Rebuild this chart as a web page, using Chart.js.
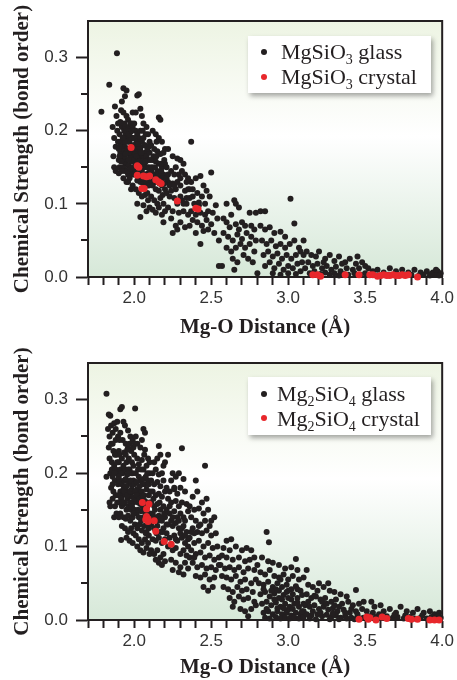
<!DOCTYPE html>
<html>
<head>
<meta charset="utf-8">
<title>Mg-O chemical strength</title>
<script src="https://cdn.jsdelivr.net/npm/chart.js@4.4.1/dist/chart.umd.min.js"></script>
<style>
  html, body { margin: 0; padding: 0; background: #fff; }
  #wrap { position: relative; width: 457px; height: 680px; overflow: hidden; }
  .panel { position: absolute; left: 0; width: 457px; height: 340px; }
  .panel canvas { position: absolute; left: 0; top: 0; }
  .legend {
    position: absolute; background: #fff;
    box-shadow: 2px 3px 5px rgba(0, 0, 0, 0.35);
    font-family: "Liberation Serif", "Times New Roman", serif;
    font-size: 22px; color: #231f20;
  }
  .legend .row { position: absolute; white-space: nowrap; line-height: 25px; height: 25px; }
  .legend .dot { position: absolute; border-radius: 50%; }
  .legend sub { font-size: 14px; vertical-align: baseline; position: relative; top: 5px; }
</style>
</head>
<body>
<div id="wrap">
  <div class="panel" style="top:0">
    <canvas id="c1" width="457" height="340"></canvas>
    <div class="legend" id="lg1" style="left:248px;top:36px;width:183px;height:57px"></div>
  </div>
  <div class="panel" style="top:340px">
    <canvas id="c2" width="457" height="340"></canvas>
    <div class="legend" id="lg2" style="left:248px;top:37px;width:183px;height:58px"></div>
  </div>
</div>
<script>
// ---- axis tick labels ----
const xTickLabels = ['2.0', '2.5', '3.0', '3.5', '4.0'];
const yTickLabels = ['0.0', '0.1', '0.2', '0.3'];

// ---- series labels ----
const mgsio3Labels = ['MgSiO₃ glass', 'MgSiO₃ crystal'];
const mg2sio4Labels = ['Mg₂SiO₄ glass', 'Mg₂SiO₄ crystal'];

// ---- MgSiO3: [Mg-O distance (Å), bond order] ----
const mgsio3Glass = [
  [1.787,0.226],[1.838,0.263],[1.888,0.306],[1.86,0.205],[1.87,0.19],[1.865,0.165],[1.87,0.15],[1.88,0.178],[1.875,0.233],[1.885,0.22],[1.89,0.2],[1.895,0.185],[1.9,0.16],[1.88,0.145],[1.9,0.142],[1.895,0.21],
  [1.93,0.258],[1.95,0.255],[1.94,0.247],[1.92,0.24],[1.915,0.228],[1.93,0.225],[1.95,0.22],[1.96,0.215],[1.91,0.212],[1.92,0.205],[1.935,0.2],[1.945,0.195],[1.955,0.19],[1.965,0.205],[1.975,0.198],[1.99,0.225],[1.985,0.21],[1.905,0.195],[1.915,0.185],[1.925,0.18],[1.94,0.178],[1.95,0.172],[1.96,0.168],[1.97,0.185],[1.98,0.175],[1.99,0.19],[1.91,0.17],[1.92,0.162],[1.93,0.158],[1.945,0.155],[1.955,0.16],[1.965,0.152],[1.975,0.162],[1.985,0.158],[1.995,0.17],[1.905,0.15],[1.915,0.148],[1.94,0.145],[1.96,0.14],[1.97,0.135],[1.98,0.145],[1.99,0.14],[1.93,0.135],[1.95,0.13],[1.98,0.12],[1.96,0.185],[1.925,0.17],[1.975,0.21],[1.99,0.205],[1.995,0.18],[1.985,0.165],[1.915,0.175],[1.935,0.165],[1.905,0.178],[1.945,0.205],[1.955,0.175],[1.97,0.17],[1.98,0.19],[1.93,0.19],[1.94,0.185],[1.95,0.2],[1.965,0.16],[1.925,0.15],[1.935,0.148],[1.96,0.13],[1.99,0.125],
  [2.02,0.248],[2.03,0.25],[2.01,0.225],[2.04,0.23],[2.05,0.22],[2.06,0.21],[2.08,0.205],[2.0,0.21],[2.01,0.2],[2.02,0.195],[2.03,0.19],[2.04,0.2],[2.05,0.185],[2.06,0.19],[2.07,0.18],[2.09,0.195],[2.1,0.185],[2.0,0.18],[2.01,0.175],[2.02,0.17],[2.03,0.165],[2.04,0.175],[2.05,0.168],[2.06,0.162],[2.07,0.17],[2.08,0.165],[2.09,0.16],[2.1,0.17],[2.0,0.16],[2.01,0.155],[2.03,0.148],[2.04,0.155],[2.05,0.145],[2.06,0.15],[2.07,0.14],[2.08,0.15],[2.09,0.142],[2.1,0.148],[2.0,0.14],[2.02,0.132],[2.04,0.13],[2.06,0.128],[2.08,0.125],[2.1,0.13],[2.01,0.12],[2.03,0.115],[2.05,0.11],[2.07,0.112],[2.09,0.105],[2.04,0.082],[2.02,0.1],[2.06,0.098],[2.08,0.09],[2.1,0.095],[2.0,0.19],[2.015,0.185],[2.035,0.178],[2.055,0.2],[2.075,0.195],[2.085,0.175],[2.095,0.178],[2.045,0.16],[2.065,0.155],[2.025,0.16],[2.015,0.145],[2.035,0.138],[2.055,0.135],[2.075,0.132],[2.095,0.125],[2.085,0.115],
  [2.16,0.218],[2.17,0.215],[2.12,0.2],[2.14,0.195],[2.16,0.19],[2.18,0.185],[2.11,0.18],[2.13,0.175],[2.15,0.172],[2.17,0.168],[2.19,0.17],[2.2,0.175],[2.12,0.16],[2.14,0.158],[2.16,0.155],[2.18,0.15],[2.2,0.155],[2.11,0.145],[2.13,0.14],[2.15,0.145],[2.17,0.138],[2.19,0.14],[2.12,0.125],[2.14,0.12],[2.16,0.118],[2.18,0.125],[2.2,0.12],[2.11,0.11],[2.13,0.105],[2.15,0.1],[2.17,0.108],[2.19,0.1],[2.12,0.092],[2.14,0.088],[2.16,0.095],[2.18,0.085],[2.2,0.09],[2.19,0.075],[2.155,0.13],[2.175,0.155],[2.125,0.165],[2.145,0.185],[2.195,0.16],[2.135,0.13],[2.185,0.112],
  [2.37,0.185],[2.22,0.175],[2.25,0.165],[2.28,0.162],[2.3,0.16],[2.32,0.155],[2.21,0.15],[2.24,0.145],[2.27,0.15],[2.29,0.14],[2.31,0.145],[2.33,0.14],[2.35,0.135],[2.22,0.13],[2.25,0.128],[2.27,0.12],[2.3,0.125],[2.33,0.118],[2.35,0.12],[2.21,0.115],[2.23,0.11],[2.26,0.108],[2.28,0.1],[2.31,0.105],[2.34,0.1],[2.22,0.095],[2.25,0.09],[2.29,0.088],[2.32,0.09],[2.35,0.085],[2.24,0.08],[2.27,0.07],[2.3,0.075],[2.33,0.068],[2.28,0.065],[2.25,0.06],[2.34,0.108],[2.3,0.135],[2.26,0.14],[2.23,0.125],
  [2.5,0.143],[2.4,0.135],[2.43,0.138],[2.37,0.13],[2.45,0.125],[2.38,0.12],[2.41,0.115],[2.44,0.11],[2.47,0.118],[2.49,0.11],[2.36,0.108],[2.39,0.1],[2.42,0.098],[2.46,0.1],[2.53,0.098],[2.37,0.09],[2.4,0.085],[2.43,0.088],[2.48,0.09],[2.51,0.088],[2.38,0.078],[2.41,0.075],[2.44,0.07],[2.47,0.078],[2.5,0.072],[2.54,0.08],[2.4,0.06],[2.45,0.063],[2.48,0.065],[2.52,0.06],[2.43,0.045],[2.55,0.05],[2.36,0.07],[2.42,0.102],[2.46,0.085],
  [2.55,0.015],[2.57,0.015],[2.6,0.1],[2.65,0.105],[2.66,0.1],[2.68,0.095],[2.63,0.085],[2.58,0.08],[2.6,0.075],[2.62,0.068],[2.66,0.072],[2.7,0.075],[2.72,0.07],[2.75,0.088],[2.58,0.06],[2.61,0.055],[2.64,0.05],[2.67,0.058],[2.7,0.052],[2.73,0.06],[2.76,0.055],[2.78,0.065],[2.6,0.04],[2.63,0.035],[2.66,0.04],[2.69,0.045],[2.72,0.04],[2.75,0.045],[2.78,0.035],[2.64,0.025],[2.67,0.02],[2.71,0.03],[2.74,0.025],[2.77,0.02],[2.65,0.01],[2.8,0.005],[2.79,0.05],[2.76,0.07],[2.68,0.065],
  [2.79,0.088],[2.82,0.09],[2.85,0.09],[3.015,0.107],[3.04,0.073],[2.82,0.07],[2.85,0.065],[2.88,0.068],[2.91,0.06],[2.95,0.062],[2.98,0.055],[2.83,0.05],[2.86,0.045],[2.89,0.05],[2.92,0.042],[2.95,0.045],[2.98,0.04],[3.01,0.045],[3.04,0.05],[3.07,0.04],[2.84,0.03],[2.87,0.035],[2.9,0.028],[2.93,0.032],[2.96,0.025],[2.99,0.03],[3.02,0.025],[3.05,0.03],[3.08,0.035],[2.85,0.015],[2.88,0.02],[2.91,0.012],[2.94,0.018],[2.97,0.01],[3.0,0.015],[3.03,0.012],[3.06,0.018],[3.09,0.02],[2.9,0.005],[2.95,0.003],[3.0,0.005],[3.05,0.004],[3.08,0.008],[3.1,0.05],[3.1,0.03],
  [3.12,0.035],[3.15,0.03],[3.18,0.028],[3.2,0.035],[3.24,0.025],[3.27,0.03],[3.3,0.022],[3.33,0.028],[3.37,0.02],[3.4,0.025],[3.45,0.028],[3.48,0.02],[3.13,0.02],[3.16,0.015],[3.19,0.018],[3.22,0.012],[3.25,0.015],[3.28,0.01],[3.31,0.014],[3.34,0.008],[3.38,0.012],[3.42,0.01],[3.46,0.012],[3.5,0.015],[3.14,0.005],[3.17,0.008],[3.21,0.004],[3.24,0.006],[3.27,0.003],[3.3,0.005],[3.33,0.002],[3.36,0.004],[3.39,0.003],[3.43,0.005],[3.47,0.003],[3.5,0.005],[3.11,0.012],[3.23,0.02],[3.35,0.018],[3.44,0.018],
  [3.52,0.012],[3.55,0.008],[3.58,0.01],[3.62,0.006],[3.66,0.012],[3.7,0.008],[3.74,0.01],[3.78,0.006],[3.82,0.01],[3.86,0.006],[3.9,0.008],[3.94,0.006],[3.97,0.008],[3.99,0.005],[3.54,0.003],[3.6,0.002],[3.65,0.003],[3.72,0.002],[3.8,0.003],[3.85,0.002],[3.88,0.003],[3.92,0.002],[3.95,0.003],[3.98,0.002],[3.96,0.01],[3.93,0.004],
  [1.905,0.165],[1.915,0.158],[1.925,0.19],[1.935,0.21],[1.945,0.168],[1.955,0.145],[1.965,0.195],[1.975,0.148],[1.985,0.2],[1.995,0.15],[2.005,0.168],[2.015,0.165],[2.025,0.182],[2.035,0.158],[2.045,0.17],[2.055,0.158],[2.065,0.18],[2.075,0.158],[2.085,0.14],[2.095,0.15],[2.105,0.16],[2.115,0.15],[2.125,0.135],[2.135,0.15],[2.145,0.165],[2.155,0.14],[2.165,0.128],[2.175,0.145],[2.185,0.135],[2.195,0.128],[2.21,0.135],[2.22,0.14],[2.24,0.118],[2.26,0.125],[2.28,0.13],[2.3,0.11],[2.32,0.1],[2.34,0.13],[2.36,0.12],[2.38,0.11],[1.9,0.175],[1.92,0.145]
];
const mgsio3Crystal = [
  [1.98,0.177],[2.02,0.152],[2.03,0.150],[2.02,0.139],[2.06,0.138],[2.08,0.137],[2.10,0.138],[2.05,0.121],[2.065,0.121],[2.14,0.133],[2.16,0.130],[2.175,0.128],[2.28,0.104],[2.40,0.094],[2.415,0.093],
  [3.16,0.003],[3.19,0.003],[3.21,0.001],[3.37,0.003],[3.46,0.003],[3.53,0.003],[3.55,0.003],[3.58,0.001],[3.60,0.002],[3.62,0.003],[3.64,0.002],[3.66,0.002],[3.68,0.003],[3.70,0.002],[3.72,0.002],[3.74,0.003],[3.76,0.002],[3.78,0.003],[3.84,0.0]
];

// ---- Mg2SiO4: [Mg-O distance (Å), bond order] ----
const mg2sio4Glass = [
  [1.82,0.308],[1.835,0.28],[1.845,0.278],[1.82,0.195],[1.84,0.16],[1.845,0.155],[1.83,0.26],[1.84,0.25],[1.85,0.265],[1.86,0.255],[1.87,0.268],[1.88,0.26],[1.89,0.27],[1.835,0.235],[1.85,0.24],[1.865,0.23],[1.88,0.245],[1.84,0.22],[1.855,0.215],[1.87,0.21],[1.885,0.225],[1.9,0.215],[1.845,0.2],[1.86,0.195],[1.875,0.19],[1.89,0.2],[1.85,0.18],[1.865,0.175],[1.88,0.17],[1.895,0.185],[1.86,0.165],[1.875,0.155],[1.89,0.16],[1.87,0.14],[1.885,0.145],[1.9,0.14],[1.855,0.205],[1.88,0.205],[1.86,0.24],[1.895,0.25],[1.9,0.23],
  [1.91,0.287],[1.92,0.29],[2.006,0.288],[1.915,0.109],[1.93,0.27],[1.94,0.265],[1.96,0.258],[1.975,0.25],[1.99,0.245],[1.91,0.255],[1.925,0.245],[1.945,0.24],[1.96,0.235],[1.98,0.23],[1.995,0.235],[1.905,0.225],[1.92,0.22],[1.935,0.228],[1.95,0.215],[1.965,0.22],[1.985,0.215],[1.91,0.205],[1.925,0.2],[1.94,0.205],[1.955,0.198],[1.97,0.205],[1.99,0.2],[1.905,0.19],[1.92,0.185],[1.935,0.19],[1.95,0.182],[1.965,0.188],[1.98,0.185],[1.995,0.19],[1.91,0.175],[1.925,0.17],[1.94,0.172],[1.955,0.165],[1.97,0.17],[1.985,0.168],[1.905,0.16],[1.92,0.155],[1.935,0.158],[1.95,0.15],[1.965,0.155],[1.98,0.15],[1.995,0.16],[1.91,0.145],[1.93,0.14],[1.945,0.138],[1.96,0.142],[1.975,0.135],[1.99,0.14],[1.92,0.128],[1.94,0.125],[1.96,0.12],[1.98,0.125],[1.995,0.118],[1.95,0.112],[1.97,0.108],[1.99,0.105],[1.915,0.2],[1.93,0.21],[1.945,0.225],[1.96,0.205],[1.975,0.19],[1.985,0.178],[1.96,0.175],[1.94,0.16],[1.975,0.16],[1.99,0.175],[1.93,0.178],[1.945,0.192],[1.955,0.232],[1.97,0.24],[1.98,0.2],[1.995,0.21],
  [2.06,0.26],[2.07,0.255],[2.01,0.25],[2.02,0.24],[2.04,0.235],[2.05,0.245],[2.07,0.232],[2.09,0.22],[2.1,0.215],[2.0,0.225],[2.02,0.22],[2.03,0.212],[2.05,0.218],[2.06,0.205],[2.08,0.21],[2.1,0.2],[2.01,0.2],[2.03,0.195],[2.04,0.19],[2.06,0.192],[2.07,0.185],[2.09,0.19],[2.0,0.185],[2.02,0.178],[2.035,0.172],[2.05,0.175],[2.065,0.17],[2.08,0.178],[2.095,0.17],[2.01,0.165],[2.025,0.16],[2.04,0.158],[2.055,0.155],[2.07,0.162],[2.085,0.155],[2.1,0.16],[2.0,0.15],[2.015,0.145],[2.03,0.14],[2.045,0.148],[2.06,0.14],[2.075,0.145],[2.09,0.14],[2.1,0.145],[2.005,0.13],[2.02,0.125],[2.035,0.13],[2.05,0.122],[2.065,0.128],[2.08,0.12],[2.095,0.125],[2.01,0.115],[2.03,0.11],[2.05,0.105],[2.07,0.11],[2.09,0.105],[2.02,0.1],[2.04,0.095],[2.06,0.092],[2.08,0.098],[2.1,0.09],[2.0,0.165],[2.015,0.188],[2.045,0.205],[2.085,0.2],[2.055,0.185],[2.095,0.185],[2.025,0.205],[2.075,0.195],[2.035,0.182],[2.005,0.24],[2.065,0.225],
  [2.16,0.237],[2.15,0.22],[2.13,0.215],[2.17,0.225],[2.19,0.21],[2.2,0.215],[2.12,0.2],[2.14,0.205],[2.16,0.198],[2.18,0.2],[2.11,0.19],[2.13,0.185],[2.15,0.188],[2.17,0.182],[2.19,0.19],[2.12,0.175],[2.14,0.17],[2.16,0.172],[2.18,0.168],[2.2,0.175],[2.11,0.16],[2.13,0.155],[2.15,0.158],[2.17,0.15],[2.19,0.155],[2.12,0.145],[2.14,0.14],[2.16,0.142],[2.18,0.135],[2.2,0.14],[2.11,0.13],[2.13,0.125],[2.15,0.128],[2.17,0.12],[2.19,0.125],[2.12,0.11],[2.14,0.108],[2.16,0.112],[2.18,0.105],[2.2,0.11],[2.11,0.095],[2.13,0.09],[2.15,0.095],[2.17,0.085],[2.19,0.09],[2.16,0.078],[2.2,0.08],[2.14,0.082],[2.18,0.075],
  [2.31,0.234],[2.22,0.225],[2.25,0.2],[2.24,0.19],[2.27,0.195],[2.29,0.2],[2.32,0.192],[2.21,0.18],[2.23,0.175],[2.26,0.178],[2.28,0.172],[2.3,0.18],[2.33,0.175],[2.22,0.165],[2.24,0.16],[2.27,0.162],[2.29,0.155],[2.31,0.16],[2.34,0.158],[2.21,0.15],[2.23,0.145],[2.26,0.148],[2.28,0.14],[2.3,0.145],[2.32,0.14],[2.35,0.148],[2.22,0.13],[2.25,0.128],[2.27,0.132],[2.29,0.125],[2.32,0.128],[2.34,0.12],[2.21,0.118],[2.23,0.112],[2.26,0.115],[2.28,0.108],[2.31,0.112],[2.33,0.105],[2.35,0.11],[2.22,0.1],[2.25,0.095],[2.27,0.098],[2.3,0.09],[2.32,0.095],[2.34,0.088],[2.24,0.082],[2.27,0.078],[2.3,0.072],[2.33,0.078],[2.25,0.068],[2.29,0.065],[2.32,0.062],[2.35,0.07],[2.26,0.18],[2.3,0.118],[2.24,0.135],[2.33,0.135],
  [2.46,0.21],[2.4,0.19],[2.41,0.175],[2.44,0.16],[2.47,0.165],[2.38,0.168],[2.36,0.155],[2.39,0.15],[2.42,0.152],[2.45,0.145],[2.48,0.15],[2.52,0.14],[2.37,0.14],[2.4,0.135],[2.43,0.13],[2.46,0.135],[2.49,0.128],[2.38,0.125],[2.41,0.12],[2.44,0.118],[2.47,0.122],[2.5,0.115],[2.53,0.118],[2.36,0.112],[2.39,0.105],[2.42,0.108],[2.45,0.1],[2.48,0.105],[2.51,0.098],[2.54,0.1],[2.37,0.095],[2.4,0.09],[2.43,0.092],[2.46,0.085],[2.49,0.088],[2.52,0.082],[2.55,0.085],[2.38,0.078],[2.41,0.072],[2.44,0.075],[2.47,0.07],[2.5,0.072],[2.53,0.068],[2.4,0.06],[2.43,0.058],[2.46,0.062],[2.49,0.055],[2.52,0.058],[2.45,0.045],[2.48,0.04],[2.51,0.045],[2.36,0.085],[2.42,0.128],[2.5,0.135],[2.55,0.075],[2.39,0.118],
  [2.6,0.108],[2.63,0.11],[2.58,0.098],[2.62,0.095],[2.66,0.1],[2.7,0.095],[2.73,0.098],[2.76,0.095],[2.57,0.088],[2.6,0.085],[2.64,0.082],[2.68,0.085],[2.72,0.08],[2.75,0.082],[2.56,0.075],[2.59,0.07],[2.62,0.072],[2.65,0.068],[2.68,0.072],[2.71,0.065],[2.74,0.07],[2.78,0.068],[2.57,0.06],[2.6,0.058],[2.63,0.055],[2.66,0.06],[2.69,0.052],[2.72,0.055],[2.76,0.05],[2.79,0.055],[2.58,0.045],[2.61,0.042],[2.64,0.038],[2.67,0.045],[2.7,0.04],[2.73,0.042],[2.77,0.038],[2.62,0.03],[2.65,0.025],[2.68,0.032],[2.71,0.028],[2.74,0.03],[2.78,0.025],[2.64,0.018],[2.69,0.015],[2.72,0.012],[2.76,0.015],[2.79,0.02],[2.74,0.005],[2.8,0.075],[2.78,0.085],
  [2.86,0.12],[2.875,0.106],[3.05,0.083],[2.83,0.085],[2.87,0.08],[2.9,0.078],[2.94,0.075],[2.98,0.07],[3.02,0.072],[3.06,0.068],[2.82,0.065],[2.85,0.062],[2.88,0.068],[2.91,0.06],[2.94,0.058],[2.97,0.062],[3.0,0.055],[3.03,0.06],[3.07,0.055],[3.1,0.058],[2.81,0.05],[2.84,0.048],[2.87,0.052],[2.9,0.045],[2.93,0.05],[2.96,0.045],[2.99,0.048],[3.02,0.042],[3.05,0.046],[3.08,0.04],[2.82,0.035],[2.85,0.038],[2.88,0.032],[2.91,0.036],[2.94,0.03],[2.97,0.034],[3.0,0.03],[3.03,0.035],[3.06,0.03],[3.09,0.034],[2.83,0.022],[2.86,0.025],[2.89,0.02],[2.92,0.024],[2.95,0.018],[2.98,0.022],[3.01,0.018],[3.04,0.022],[3.07,0.018],[3.1,0.022],[2.84,0.01],[2.87,0.012],[2.9,0.008],[2.93,0.012],[2.96,0.008],[2.99,0.01],[3.02,0.006],[3.05,0.01],[3.08,0.008],[2.85,0.003],[2.88,0.002],[2.92,0.004],[2.95,0.002],[2.98,0.003],[3.01,0.002],[3.04,0.003],[3.07,0.002],[3.1,0.004],[2.92,0.042],[2.95,0.055],[2.99,0.038],[3.02,0.028],[2.96,0.028],[2.93,0.016],[3.0,0.014],[3.06,0.042],[3.1,0.012],
  [3.12,0.068],[3.2,0.05],[3.26,0.05],[3.13,0.048],[3.16,0.045],[3.19,0.04],[3.23,0.045],[3.27,0.04],[3.3,0.038],[3.34,0.035],[3.38,0.032],[3.44,0.041],[3.12,0.035],[3.15,0.03],[3.18,0.032],[3.21,0.028],[3.24,0.03],[3.28,0.025],[3.31,0.028],[3.35,0.022],[3.39,0.025],[3.42,0.02],[3.46,0.022],[3.49,0.025],[3.11,0.02],[3.14,0.018],[3.17,0.02],[3.2,0.015],[3.23,0.018],[3.26,0.014],[3.29,0.016],[3.32,0.012],[3.36,0.014],[3.4,0.01],[3.44,0.012],[3.48,0.015],[3.12,0.008],[3.15,0.006],[3.19,0.008],[3.22,0.005],[3.25,0.007],[3.28,0.004],[3.31,0.006],[3.34,0.003],[3.37,0.005],[3.41,0.003],[3.45,0.004],[3.49,0.003],[3.14,0.002],[3.18,0.001],[3.27,0.001],[3.33,0.001],[3.38,0.002],[3.43,0.001],[3.47,0.002],[3.3,0.02],[3.22,0.025],[3.16,0.012],
  [3.51,0.012],[3.54,0.025],[3.56,0.018],[3.6,0.02],[3.62,0.012],[3.66,0.015],[3.7,0.01],[3.73,0.018],[3.77,0.012],[3.81,0.01],[3.84,0.015],[3.88,0.01],[3.92,0.012],[3.95,0.008],[3.98,0.01],[3.53,0.005],[3.57,0.004],[3.61,0.003],[3.64,0.005],[3.68,0.003],[3.71,0.004],[3.75,0.002],[3.79,0.004],[3.82,0.002],[3.86,0.003],[3.9,0.002],[3.93,0.004],[3.96,0.002],[3.99,0.003],[3.55,0.01],[3.59,0.008],[3.69,0.007],[3.76,0.006],[3.87,0.006],[3.97,0.005],
  [1.86,0.185],[1.87,0.2],[1.875,0.225],[1.89,0.215],[1.895,0.17],[1.9,0.195],[1.905,0.245],[1.915,0.165],[1.925,0.16],[1.935,0.175],[1.945,0.182],[1.955,0.17],[1.965,0.2],[1.975,0.175],[1.985,0.155],[1.995,0.145],[2.005,0.175],[2.015,0.17],[2.025,0.15],[2.035,0.165],[2.045,0.135],[2.055,0.165],[2.065,0.15],[2.075,0.118],[2.085,0.13],[2.095,0.115],[2.105,0.175],[2.115,0.14],[2.125,0.165],[2.135,0.15],[2.145,0.118],[2.155,0.135],[2.165,0.16],[2.175,0.14],[2.185,0.12],[2.195,0.145],[2.21,0.13],[2.23,0.155],[2.25,0.14],[2.27,0.11],[2.29,0.135],[2.31,0.125],[2.33,0.115],[2.35,0.1],[2.37,0.12],[2.39,0.085],
  [2.84,0.042],[2.86,0.015],[2.89,0.04],[2.91,0.028],[2.94,0.04],[2.97,0.016],[3.0,0.04],[3.03,0.015],[3.06,0.024],[3.09,0.012],[3.13,0.025],[3.17,0.033],[3.21,0.01],[3.25,0.022],[3.29,0.009],[3.33,0.018],[3.37,0.01],[3.41,0.015],[3.45,0.008]
];
const mg2sio4Crystal = [
  [2.053,0.160],[2.096,0.158],[2.08,0.151],[2.08,0.141],[2.09,0.138],[2.075,0.137],[2.09,0.134],[2.13,0.135],[2.14,0.121],[2.195,0.107],[2.24,0.103],
  [3.46,0.001],[3.51,0.004],[3.52,0.001],[3.53,0.003],[3.57,0.0],[3.61,0.004],[3.64,0.002],[3.78,0.002],[3.80,0.001],[3.84,0.001],[3.92,0.0],[3.95,0.0],[3.98,0.0]
];

// ---- styling ----
const INK = '#231f20';
const GLASS_COLOR = '#231f20';
const CRYSTAL_COLOR = '#e8272b';
const SERIF = '"Liberation Serif", "Times New Roman", serif';
const SANS = '"Liberation Sans", Arial, sans-serif';

const isMajorY = v => Math.abs(v * 10 - Math.round(v * 10)) < 1e-6;

// gradient panel behind the points plus top/right frame lines
const plotFrame = {
  id: 'plotFrame',
  beforeDraw(chart) {
    const { ctx, chartArea: a } = chart;
    const g = ctx.createLinearGradient(0, a.top, 0, a.bottom);
    g.addColorStop(0, '#edf4e3');
    g.addColorStop(0.45, '#ffffff');
    g.addColorStop(1, '#d6e8d8');
    ctx.save();
    ctx.fillStyle = g;
    ctx.fillRect(a.left, a.top, a.right - a.left, a.bottom - a.top);
    ctx.restore();
  },
  beforeDatasetsDraw(chart) {
    const { ctx, chartArea: a } = chart;
    ctx.save();
    ctx.strokeStyle = INK;
    ctx.lineWidth = 2;
    ctx.beginPath();
    ctx.moveTo(a.left, a.top);
    ctx.lineTo(a.right, a.top);
    ctx.lineTo(a.right, a.bottom);
    ctx.stroke();
    ctx.restore();
  },
  afterDraw(chart) {
    // short minor ticks on the y axis
    const { ctx } = chart;
    const ys = chart.scales.y;
    ctx.save();
    ctx.strokeStyle = INK;
    ctx.lineWidth = 2;
    ys.ticks.forEach(t => {
      if (isMajorY(t.value) || t.value >= ys.max - 1e-9) return;
      const py = Math.round(ys.getPixelForValue(t.value));
      ctx.beginPath();
      ctx.moveTo(ys.right - 7, py);
      ctx.lineTo(ys.right, py);
      ctx.stroke();
    });
    ctx.restore();
  }
};

function toPoints(arr) { return arr.map(p => ({ x: p[0], y: p[1] })); }

function makeChart(canvasId, glass, crystal, labels, topPad, xAxisHeight) {
  return new Chart(document.getElementById(canvasId), {
    type: 'scatter',
    data: {
      datasets: [
        { label: labels[1], data: toPoints(crystal), backgroundColor: CRYSTAL_COLOR, borderWidth: 0, pointRadius: 3.5, clip: false, order: 0 },
        { label: labels[0], data: toPoints(glass), backgroundColor: GLASS_COLOR, borderWidth: 0, pointRadius: 3.0, clip: false, order: 1 }
      ]
    },
    options: {
      responsive: false,
      animation: false,
      devicePixelRatio: 1,
      events: [],
      layout: { padding: { top: topPad, right: 10, left: 0, bottom: 0 } },
      plugins: { legend: { display: false }, tooltip: { enabled: false } },
      scales: {
        x: {
          type: 'linear', min: 1.7, max: 4.0,
          afterFit(s) { s.height = xAxisHeight; },
          ticks: {
            stepSize: 0.1, autoSkip: false, maxRotation: 0, minRotation: 0, includeBounds: false,
            padding: 3, color: '#333333', font: { family: SANS, size: 17 },
            callback: v => { const s = Number(v).toFixed(1); return xTickLabels.includes(s) && Math.abs(v * 2 - Math.round(v * 2)) < 1e-6 ? s : ''; }
          },
          grid: { drawOnChartArea: false, drawTicks: true, tickLength: 8, tickWidth: 2, tickColor: INK },
          border: { display: true, color: INK, width: 2 },
          title: { display: true, text: 'Mg-O Distance (Å)', color: INK, font: { family: SERIF, size: 21, weight: 'bold' }, padding: { top: 0, bottom: 0 } }
        },
        y: {
          type: 'linear', min: 0, max: 0.35,
          afterFit(s) { s.width = 88; },
          ticks: {
            stepSize: 0.05, autoSkip: false, includeBounds: false,
            padding: 8, color: '#333333', font: { family: SANS, size: 17 },
            callback: v => { if (!isMajorY(v)) return ''; const s = Number(v).toFixed(1); return yTickLabels.includes(s) ? s : ''; }
          },
          grid: {
            drawOnChartArea: false, drawTicks: true, tickLength: 12, tickWidth: 2,
            tickColor: ctx => (ctx.tick && isMajorY(ctx.tick.value)) ? INK : 'rgba(0,0,0,0)'
          },
          border: { display: true, color: INK, width: 2 },
          title: { display: true, text: 'Chemical Strength (bond order)', color: INK, font: { family: SERIF, size: 21, weight: 'bold' }, padding: { top: 10, bottom: 0 } }
        }
      }
    },
    plugins: [plotFrame]
  });
}

function subHtml(label) {
  return label.replace(/[\u2080-\u2089]/g, c => '<sub>' + (c.charCodeAt(0) - 0x2080) + '</sub>');
}

function buildLegend(el, chart, rows) {
  // legend lists glass first, then crystal
  const ds = chart.data.datasets;
  const order = [ds[1], ds[0]];
  order.forEach((d, i) => {
    const r = rows[i];
    const dot = document.createElement('div');
    dot.className = 'dot';
    const rad = 3.4;
    dot.style.cssText = `left:${16 - rad}px;top:${r.dotY - rad}px;width:${2 * rad}px;height:${2 * rad}px;background:${d.backgroundColor}`;
    el.appendChild(dot);
    const row = document.createElement('div');
    row.className = 'row';
    row.style.left = r.textX + 'px';
    row.style.top = r.top + 'px';
    row.innerHTML = subHtml(d.label);
    el.appendChild(row);
  });
}

const chartTop = makeChart('c1', mgsio3Glass, mgsio3Crystal, mgsio3Labels, 21, 63);
const chartBottom = makeChart('c2', mg2sio4Glass, mg2sio4Crystal, mg2sio4Labels, 23, 60);

buildLegend(document.getElementById('lg1'), chartTop, [
  { dotY: 16, top: 3, textX: 33 },
  { dotY: 41, top: 28, textX: 33 }
]);
buildLegend(document.getElementById('lg2'), chartBottom, [
  { dotY: 17, top: 4, textX: 29 },
  { dotY: 41, top: 29, textX: 29 }
]);
</script>
</body>
</html>
